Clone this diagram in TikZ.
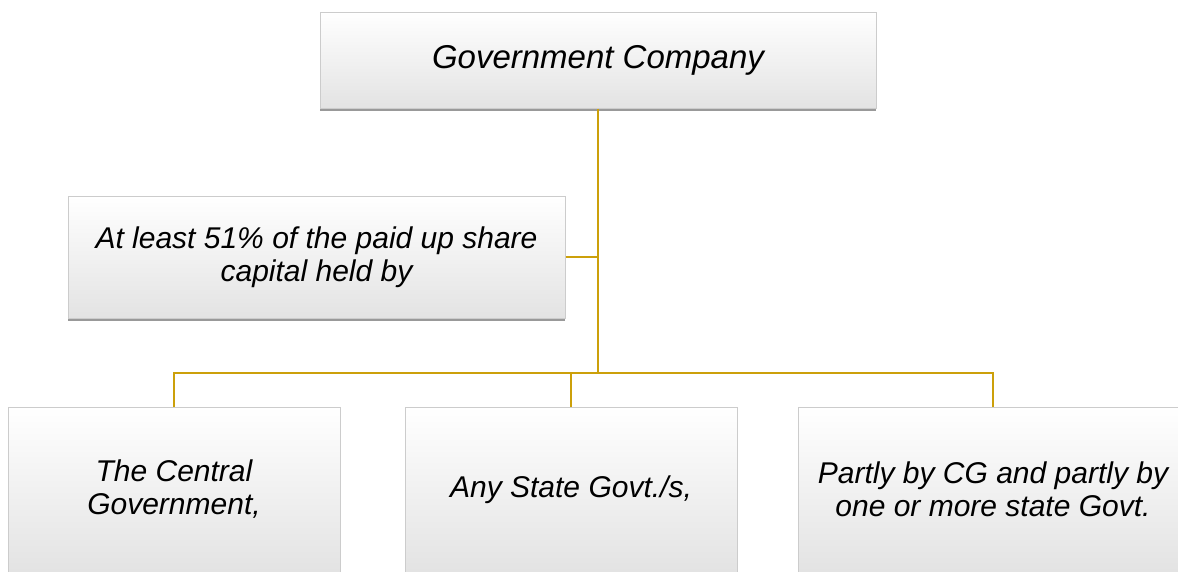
\documentclass[tikz,border=0pt]{standalone}
\usepackage{fontspec}
\setmainfont{Liberation Sans}
\usetikzlibrary{shadows}
\definecolor{linegold}{RGB}{204,160,10}

\begin{document}
\begin{tikzpicture}[
	x=1pt, y=-1pt,
	box/.style={
		rectangle,
		draw=gray!40,
		line width=1pt,
		align=center,
		top color=white,
		bottom color=gray!22,
		font=\itshape\fontsize{30}{33}\selectfont,
		drop shadow={shadow xshift=0pt, shadow yshift=-3pt, fill=black, opacity=0.4}
	},
	titlebox/.style={
		box,
		font=\itshape\fontsize{33}{38}\selectfont,
		minimum height=96pt,
		minimum width=556pt
	},
	holderbox/.style={
		box,
		minimum height=165pt,
		minimum width=332pt
	},
	link/.style={
		draw=linegold,
		line width=2.8pt
	},
]

\useasboundingbox (0,0) rectangle (1178,571);
\clip (0,0) rectangle (1178,571);

% Top
\node[titlebox] (gov) at (598,60) {Government Company};

% Share capital
\node[box, minimum height=122pt, minimum width=497pt] (share) at (316.5,257)
{At least 51\% of the paid up share\\capital held by};

% Holders
\node[holderbox] (central) at (174,489.5) {The Central\\Government,};
\node[holderbox] (state) at (571,489.5) {Any State Govt./s,};
\node[holderbox, minimum width=390pt] (partly) at (993,489.5)
{Partly by CG and partly by\\one or more state Govt.};

\coordinate (hub) at (598,373);

% Links
\draw[link] (gov.south) -- (hub);
\draw[link] (share.east) -- (share.east -| gov.south);
\draw[link] (central.north) |- (hub);
\draw[link] (partly.north) |- (hub);
\draw[link] (state.north) -- (state.north |- hub);

\end{tikzpicture}
\end{document}
